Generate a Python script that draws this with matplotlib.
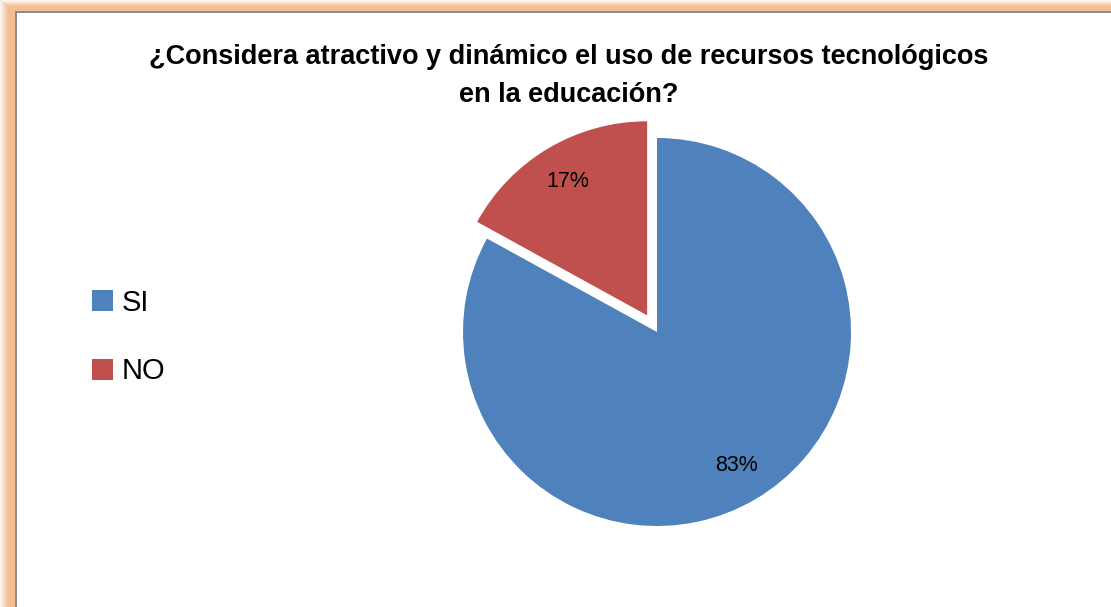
import matplotlib
matplotlib.use("Agg")
import matplotlib.pyplot as plt
from matplotlib.patches import Rectangle

# -----------------------------
#  Data
# -----------------------------
title = "¿Considera atractivo y dinámico el uso de recursos tecnológicos\nen la educación?"
labels = ["SI", "NO"]
values = [83, 17]
colors = ["#4F81BD", "#C0504D"]
explode = [0, 0.1]

W, H = 1111, 607
plt.rcParams["font.family"] = ["Liberation Sans", "DejaVu Sans"]

fig = plt.figure(figsize=(W / 100, H / 100), dpi=100)
fig.patch.set_facecolor("white")


def px_rect(x, y, w, h, **kw):
    # rectangle in pixel coordinates measured from the top-left corner
    fig.add_artist(Rectangle((x / W, 1 - (y + h) / H), w / W, h / H,
                             transform=fig.transFigure, linewidth=0,
                             zorder=-10, **kw))


# -----------------------------
#  Orange glow frame
# -----------------------------
glow = "#F2BE92"
for i in range(15):
    a = min(1.0, 0.15 + i / 9)
    px_rect(i, i * 11 / 15, 1, H, facecolor=glow, alpha=a)
for j in range(11):
    a = min(1.0, 0.15 + j / 7)
    px_rect(j * 15 / 11, j, W, 1, facecolor=glow, alpha=a)
px_rect(15, 12, W, H, facecolor="white")
px_rect(14.5, 11, 2, H, facecolor="#8C8C8C")
px_rect(14.5, 11, W, 1.5, facecolor="#8C8C8C")

# -----------------------------
#  Pie
# -----------------------------
cx, cy, r, half = 657, 332, 194, 250
ax = fig.add_axes([(cx - half) / W, (H - cy - half) / H, 2 * half / W, 2 * half / H])
wedges, texts, autotexts = ax.pie(
    values, colors=colors, explode=explode, startangle=90, counterclock=False,
    autopct="%1.0f%%", pctdistance=0.8, radius=1,
    wedgeprops=dict(linewidth=0),
    textprops=dict(fontsize=15.5, color="black"),
)
lim = half / r
ax.set_xlim(-lim, lim)
ax.set_ylim(-lim, lim)
ax.set_aspect("equal")
ax.axis("off")

# -----------------------------
#  Title and legend
# -----------------------------
fig.text(569 / W, 1 - 75.5 / H, title, ha="center", va="center",
         fontsize=19.5, fontweight="bold", linespacing=1.6)

leg = fig.legend(wedges, labels, loc="center left", bbox_to_anchor=(92 / W, 1 - 337 / H),
                 frameon=False, fontsize=21, handlelength=0.72, handleheight=0.72,
                 handletextpad=0.3, labelspacing=1.4, borderpad=0, borderaxespad=0)

fig.savefig("out.png", dpi=100)
